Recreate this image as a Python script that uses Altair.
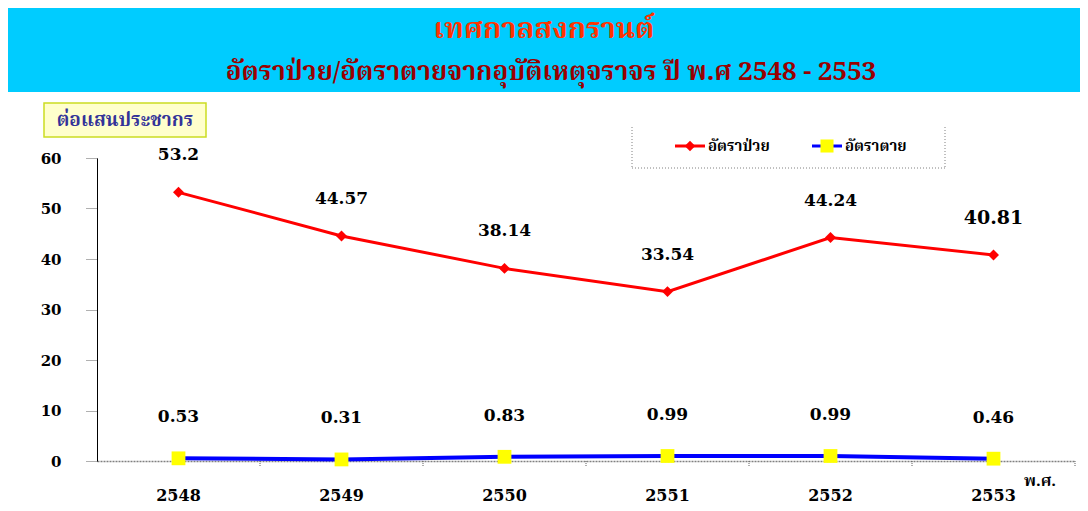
import altair as alt
import pandas as pd

years = ["2548", "2549", "2550", "2551", "2552", "2553"]
illness = [53.2, 44.57, 38.14, 33.54, 44.24, 40.81]
death = [0.53, 0.31, 0.83, 0.99, 0.99, 0.46]
y_ticks = [0, 10, 20, 30, 40, 50, 60]

title_text = "เทศกาลสงกรานต์"
subtitle_text = "อัตราป่วย/อัตราตายจากอุบัติเหตุจราจร ปี พ.ศ 2548 - 2553"
ylabel_text = "ต่อแสนประชากร"
legend_ill = "อัตราป่วย"
legend_death = "อัตราตาย"
xunit_text = "พ.ศ."

THAI = "Kinnari, Norasi, Noto Serif Thai, Noto Sans Thai, Loma, Garuda, serif"
NUM = "DejaVu Serif"

df_ill = pd.DataFrame({"year": years, "value": illness})
df_death = pd.DataFrame({"year": years, "value": death})
one = pd.DataFrame({"k": [0]})

xscale = alt.Scale(type="band", paddingInner=0, paddingOuter=0)
yscale = alt.Scale(domain=[0, 60], nice=False)

xenc = alt.X(
    "year:O", scale=xscale, sort=years,
    axis=alt.Axis(title=None, ticks=False, labelAngle=0, labelFont=NUM,
                  labelFontWeight="bold", labelFontSize=16, labelColor="black",
                  labelPadding=26, domainColor="#808080", domainDash=[2, 1],
                  domainWidth=1.5),
)
yenc = alt.Y(
    "value:Q", scale=yscale,
    axis=alt.Axis(title=None, values=y_ticks, grid=False, tickSize=11,
                  tickDash=[1, 1], tickColor="#606060", domainColor="black",
                  labelFont=NUM, labelFontWeight="bold", labelFontSize=15,
                  labelColor="black", labelPadding=25),
)

ill_line = alt.Chart(df_ill).mark_line(color="#FF0000", strokeWidth=3).encode(x=xenc, y=yenc)
ill_pts = alt.Chart(df_ill).mark_point(shape="diamond", filled=True, color="#FF0000",
                                       size=120, opacity=1).encode(
    x=alt.X("year:O", sort=years), y="value:Q")
ill_lbl = alt.Chart(df_ill).mark_text(font=NUM, fontWeight="bold", dy=-37,
                                      color="black").encode(
    x=alt.X("year:O", sort=years), y="value:Q",
    text=alt.Text("value:Q"),
    size=alt.condition(alt.datum.year == "2553", alt.value(19), alt.value(17)))

d_line = alt.Chart(df_death).mark_line(color="#0000FF", strokeWidth=4).encode(
    x=alt.X("year:O", sort=years), y="value:Q")
d_pts = alt.Chart(df_death).mark_point(shape="square", filled=True, color="#FFFF00",
                                       size=190, opacity=1).encode(
    x=alt.X("year:O", sort=years), y="value:Q")
d_lbl = alt.Chart(df_death).mark_text(font=NUM, fontWeight="bold", dy=-41,
                                      fontSize=17, color="black").encode(
    x=alt.X("year:O", sort=years), y="value:Q", text=alt.Text("value:Q"))

xticks = alt.Chart(df_ill).mark_rule(color="#606060", strokeDash=[1, 1]).encode(
    x=alt.X("year:O", sort=years, bandPosition=1), y=alt.value(303), y2=alt.value(309))

# decorations
banner = alt.Chart(one).mark_rect(color="#00CCFF").encode(
    x=alt.value(-89), x2=alt.value(983), y=alt.value(-150), y2=alt.value(-66))
title = alt.Chart(one).mark_text(text=title_text, font=THAI, fontSize=29,
                                 fontWeight="bold", color="#FF3300").encode(
    x=alt.value(447), y=alt.value(-129))
subtitle = alt.Chart(one).mark_text(text=subtitle_text, font=THAI, fontSize=26,
                                    fontWeight="bold", color="#990000").encode(
    x=alt.value(454), y=alt.value(-86))

ybox = alt.Chart(one).mark_rect(fill="#FFFFCC", stroke="#CCDD22", strokeWidth=1.5).encode(
    x=alt.value(-53), x2=alt.value(109), y=alt.value(-55), y2=alt.value(-21))
ytext = alt.Chart(one).mark_text(text=ylabel_text, font=THAI, fontSize=19,
                                 fontWeight="bold", color="#333399").encode(
    x=alt.value(28), y=alt.value(-38))

lbox_l = alt.Chart(one).mark_rule(color="#808080", strokeDash=[1, 2]).encode(
    x=alt.value(535), y=alt.value(-31), y2=alt.value(10))
lbox_r = alt.Chart(one).mark_rule(color="#808080", strokeDash=[1, 2]).encode(
    x=alt.value(848), y=alt.value(-31), y2=alt.value(10))
lbox_b = alt.Chart(one).mark_rule(color="#808080", strokeDash=[1, 2]).encode(
    x=alt.value(535), x2=alt.value(848), y=alt.value(10))
leg_r_line = alt.Chart(one).mark_rule(color="#FF0000", strokeWidth=3).encode(
    x=alt.value(578), x2=alt.value(608), y=alt.value(-12))
leg_r_pt = alt.Chart(one).mark_point(shape="diamond", filled=True, color="#FF0000",
                                     size=110, opacity=1).encode(
    x=alt.value(593), y=alt.value(-12))
leg_r_txt = alt.Chart(one).mark_text(text=legend_ill, font=THAI, fontSize=15,
                                     fontWeight="bold", align="left", color="black").encode(
    x=alt.value(611), y=alt.value(-12))
leg_b_line = alt.Chart(one).mark_rule(color="#0000FF", strokeWidth=3).encode(
    x=alt.value(715), x2=alt.value(745), y=alt.value(-12))
leg_b_pt = alt.Chart(one).mark_point(shape="square", filled=True, color="#FFFF00",
                                     size=170, opacity=1).encode(
    x=alt.value(730), y=alt.value(-12))
leg_b_txt = alt.Chart(one).mark_text(text=legend_death, font=THAI, fontSize=15,
                                     fontWeight="bold", align="left", color="black").encode(
    x=alt.value(748), y=alt.value(-12))

xunit = alt.Chart(one).mark_text(text=xunit_text, font=THAI, fontSize=16,
                                 fontWeight="bold", color="black").encode(
    x=alt.value(943), y=alt.value(323))

chart = alt.layer(
    ill_line, banner, title, subtitle, ybox, ytext, lbox_l, lbox_r, lbox_b,
    leg_r_line, leg_r_pt, leg_r_txt, leg_b_line, leg_b_pt, leg_b_txt,
    xticks, d_line, d_pts, d_lbl, ill_pts, ill_lbl, xunit,
).properties(
    width=978, height=303,
    autosize=alt.AutoSizeParams(type="none"),
    padding={"left": 89, "top": 150, "right": 5, "bottom": 42},
    background="white",
).configure_view(strokeWidth=0)

chart.save("out.html", embed_options={"renderer": "svg", "actions": False})
